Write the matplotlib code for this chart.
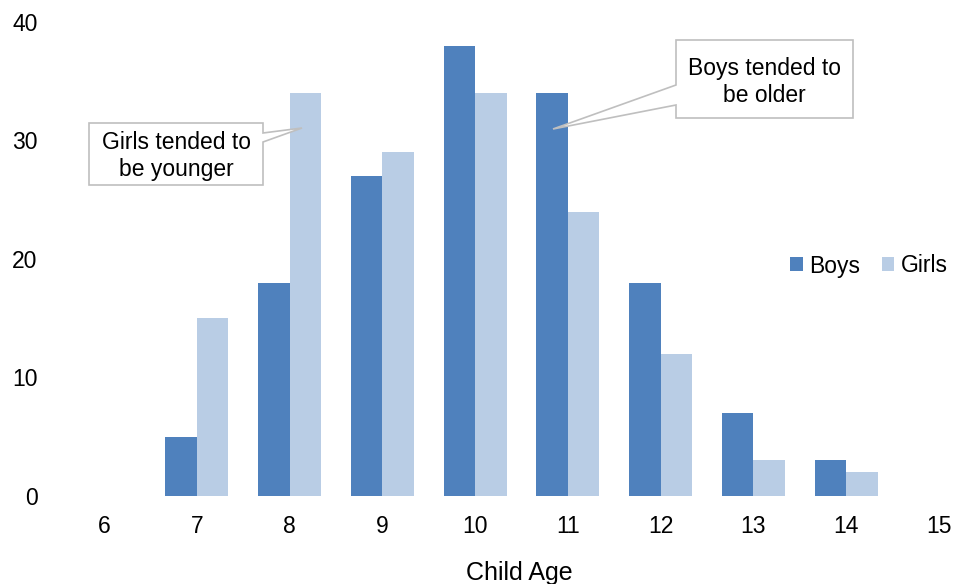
import matplotlib
matplotlib.use("Agg")
import matplotlib.pyplot as plt
from matplotlib.patches import Polygon
import numpy as np

plt.rcParams['font.family'] = ['Liberation Sans', 'DejaVu Sans']

ages = [6, 7, 8, 9, 10, 11, 12, 13, 14, 15]
boys = [0, 5, 18, 27, 38, 34, 18, 7, 3, 0]
girls = [0, 15, 34, 29, 34, 24, 12, 3, 2, 0]

boys_color = '#4F81BD'
girls_color = '#B9CDE5'

W, H = 955, 584
fig = plt.figure(figsize=(W / 100, H / 100), dpi=100)

# plot area placed in pixel terms
left_px, right_px, top_px, bottom_px = 57, 955, 22, 496
ax = fig.add_axes([left_px / W, 1 - bottom_px / H,
                   (right_px - left_px) / W, (bottom_px - top_px) / H])

x = np.arange(len(ages))
bw = 0.34
ax.bar(x - bw / 2, boys, width=bw, color=boys_color, label='Boys')
ax.bar(x + bw / 2, girls, width=bw, color=girls_color, label='Girls')

ax.set_ylim(0, 40)
ax.set_yticks([0, 10, 20, 30, 40])
ax.set_xlim(-0.507, 9.172)
ax.set_xticks(x)
ax.set_xticklabels([str(a) for a in ages])
for s in ax.spines.values():
    s.set_visible(False)
ax.tick_params(axis='both', length=0, labelsize=16.5, colors='black')
ax.tick_params(axis='y', pad=14)
ax.tick_params(axis='x', pad=14)

fig.text(519 / W, 1 - 573 / H, 'Child Age', ha='center', va='center', fontsize=18)

ax.legend(loc='center left',
          bbox_to_anchor=(733 / (right_px - left_px), (496 - 266) / (496 - 22)),
          frameon=False, ncol=2, fontsize=16.5, handlelength=0.55, handleheight=0.55,
          handletextpad=0.28, columnspacing=0.95, borderaxespad=0, borderpad=0)


def callout(pts, text, cx, cy):
    verts = [(px / W, 1 - py / H) for px, py in pts]
    fig.patches.append(Polygon(verts, closed=True, transform=fig.transFigure,
                               facecolor='white', edgecolor='#BFBFBF', linewidth=1.2,
                               zorder=5))
    fig.text(cx / W, 1 - cy / H, text, ha='center', va='center', fontsize=16.5,
             linespacing=1.2, zorder=6)


callout([(89, 123), (263, 123), (263, 133), (302, 128), (263, 142),
         (263, 185), (89, 185)],
        'Girls tended to\nbe younger', 176, 156)
callout([(676, 40), (853, 40), (853, 118), (676, 118), (676, 105),
         (553, 129), (676, 85)],
        'Boys tended to\nbe older', 764, 82)

fig.savefig('out.png', dpi=100)
